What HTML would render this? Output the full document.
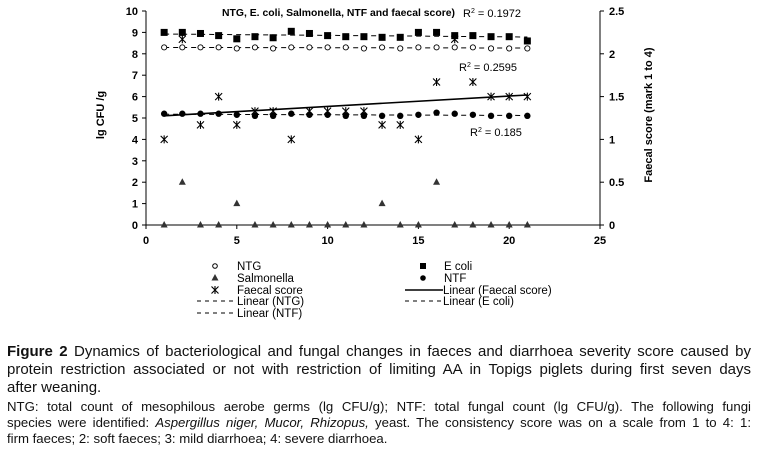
<!DOCTYPE html>
<html><head><meta charset="utf-8"><style>
body{margin:0;background:#fff;width:760px;height:452px;overflow:hidden;font-family:"Liberation Sans",Arial,sans-serif}
svg{position:absolute;left:0;top:0}
.cap{position:absolute;left:7px;width:744px;color:#111}
.cap div{white-space:nowrap}
.j{text-align:justify;text-align-last:justify}
</style></head><body>
<svg id="chart" width="760" height="330" font-family="Liberation Sans, Arial, sans-serif"></svg>
<div class="cap" style="top:343px;font-size:15px;line-height:18px">
<div class="j"><b>Figure 2</b> Dynamics of bacteriological and fungal changes in faeces and diarrhoea severity score caused by</div>
<div class="j">protein restriction associated or not with restriction of limiting AA in Topigs piglets during first seven days</div>
<div>after weaning.</div></div>
<div class="cap" style="top:399px;font-size:13.2px;line-height:16px">
<div class="j">NTG: total count of mesophilous aerobe germs (lg CFU/g); NTF: total fungal count (lg CFU/g). The following fungi</div>
<div class="j">species were identified: <i>Aspergillus niger, Mucor, Rhizopus,</i> yeast. The consistency score was on a scale from 1 to 4: 1:</div>
<div>firm faeces; 2: soft faeces; 3: mild diarrhoea; 4: severe diarrhoea.</div></div>
<script>
const days=[1,2,3,4,5,6,7,8,9,10,11,12,13,14,15,16,17,18,19,20,21];
const ntg=[8.3,8.3,8.3,8.3,8.25,8.3,8.25,8.3,8.3,8.3,8.3,8.25,8.3,8.25,8.3,8.3,8.3,8.3,8.25,8.25,8.25];
const ecoli=[9,9,8.95,8.85,8.7,8.8,8.75,9.05,8.95,8.85,8.8,8.8,8.77,8.77,9.0,9.0,8.85,8.85,8.8,8.8,8.6];
const ntf=[5.2,5.2,5.2,5.2,5.15,5.1,5.1,5.2,5.15,5.15,5.1,5.1,5.1,5.1,5.15,5.25,5.2,5.15,5.1,5.1,5.1];
const salmonella=[0,2,0,0,1,0,0,0,0,0,0,0,1,0,0,2,0,0,0,0,0];
const faecal=[1,2.17,1.17,1.5,1.17,1.33,1.33,1,1.33,1.33,1.33,1.33,1.17,1.17,1,1.67,2.17,1.67,1.5,1.5,1.5];
const xTicks=[0,5,10,15,20,25];
const yTicks=[0,1,2,3,4,5,6,7,8,9,10];
const y2Ticks=[0,0.5,1,1.5,2,2.5];
const NS="http://www.w3.org/2000/svg";
const svg=document.getElementById('chart');
const X=v=>146+v*(454/25), Y=v=>225-v*21.4, Y2=v=>Y(v*4);
function el(t,a,p){const e=document.createElementNS(NS,t);for(const k in a)e.setAttribute(k,a[k]);(p||svg).appendChild(e);return e;}
function txt(s,a){const e=el('text',a);e.textContent=s;return e;}
let g;
g=el('g',{});
el('line',{x1:146,y1:Y(0),x2:600,y2:Y(0),stroke:'#000'},g);
el('line',{x1:146,y1:Y(0),x2:146,y2:Y(10),stroke:'#000'},g);
el('line',{x1:600,y1:Y(0),x2:600,y2:Y(10),stroke:'#000'},g);
xTicks.forEach(v=>{el('line',{x1:X(v),y1:225,x2:X(v),y2:229,stroke:'#000'},g);const t=txt(v,{x:X(v),y:244,'font-size':11,'font-weight':'bold','text-anchor':'middle'});});
yTicks.forEach(v=>{el('line',{x1:142,y1:Y(v),x2:146,y2:Y(v),stroke:'#000'},g);const t=txt(v,{x:138,y:Y(v)+4,'font-size':11,'font-weight':'bold','text-anchor':'end'});});
y2Ticks.forEach(v=>{el('line',{x1:600,y1:Y2(v),x2:604,y2:Y2(v),stroke:'#000'},g);const t=txt(v,{x:609,y:Y2(v)+4,'font-size':11,'font-weight':'bold'});});
let t=txt('lg CFU /g',{x:104,y:115,'font-size':11,'font-weight':'bold','text-anchor':'middle',transform:'rotate(-90 104 115)'});
t=txt('Faecal score (mark 1 to 4)',{x:652,y:115,'font-size':11,'font-weight':'bold','text-anchor':'middle',transform:'rotate(-90 652 115)'});
t=txt('NTG, E. coli, Salmonella, NTF and faecal score)',{x:222,y:16,'font-size':10.5,'font-weight':'bold',textLength:233,lengthAdjust:'spacingAndGlyphs'});
function fit(ys){const n=days.length;let sx=0,sy=0,sxy=0,sxx=0;days.forEach((x,i)=>{sx+=x;sy+=ys[i];sxy+=x*ys[i];sxx+=x*x;});const b=(n*sxy-sx*sy)/(n*sxx-sx*sx);return [b,(sy-b*sx)/n];}
function trend(ys,yf,dash,name){const [b,a]=fit(ys);const l=el('line',{x1:X(1),y1:yf(a+b),x2:X(21),y2:yf(a+21*b),stroke:'#000','stroke-width':dash?1:1.6,'stroke-dasharray':dash?'5,4':'none'});}
trend(ecoli,Y,true,'trend-ecoli');trend(ntg,Y,true,'trend-ntg');trend(ntf,Y,true,'trend-ntf');trend(faecal,Y2,false,'trend-faecal');
function star(x,y,p){el('path',{d:`M${x-3.5},${y-3.5}L${x+3.5},${y+3.5}M${x+3.5},${y-3.5}L${x-3.5},${y+3.5}M${x},${y-4}L${x},${y+4}`,stroke:'#000','stroke-width':1.1},p);}
function tri(x,y,p){el('path',{d:`M${x},${y-4}L${x+3.5},${y+2.5}L${x-3.5},${y+2.5}Z`,fill:'#333'},p);}
days.forEach((d,i)=>{let m;
m=el('circle',{cx:X(d),cy:Y(ntg[i]),r:2.6,fill:'#fff',stroke:'#000','stroke-width':0.9});
m=el('rect',{x:X(d)-3.5,y:Y(ecoli[i])-3.5,width:7,height:7,fill:'#000'});
m=el('circle',{cx:X(d),cy:Y(ntf[i]),r:3.2,fill:'#000'});
m=el('g',{});tri(X(d),Y(salmonella[i]),m);
m=el('g',{});star(X(d),Y2(faecal[i]),m);
});
function r2(s,x,y,name){const e=el('text',{x:x,y:y,'font-size':11});e.innerHTML='R<tspan dy="-4" font-size="7">2</tspan><tspan dy="4"> = '+s+'</tspan>';}
r2('0.1972',463,17,'r2-ecoli');r2('0.2595',459,71,'r2-faecal');r2('0.185',470,136,'r2-ntf');
const lg=el('g',{'font-size':11.5});
function lt(s,x,y){const e=el('text',{x:x,y:y+4},lg);e.textContent=s;}
el('circle',{cx:215,cy:266,r:2.3,fill:'#fff',stroke:'#000'},lg);lt('NTG',237,266);
tri(215,278,lg);lt('Salmonella',237,278);
star(215,290,lg);lt('Faecal score',237,290);
el('line',{x1:197,y1:301,x2:235,y2:301,stroke:'#000','stroke-dasharray':'4,4'},lg);lt('Linear (NTG)',237,301);
el('line',{x1:197,y1:313,x2:235,y2:313,stroke:'#000','stroke-dasharray':'4,4'},lg);lt('Linear (NTF)',237,313);
el('rect',{x:420,y:263,width:6,height:6,fill:'#000'},lg);lt('E coli',444,266);
el('circle',{cx:423,cy:278,r:2.8,fill:'#000'},lg);lt('NTF',444,278);
el('line',{x1:405,y1:290,x2:443,y2:290,stroke:'#000','stroke-width':1.6},lg);lt('Linear (Faecal score)',443,290);
el('line',{x1:405,y1:301,x2:443,y2:301,stroke:'#000','stroke-dasharray':'4,4'},lg);lt('Linear (E coli)',443,301);
</script>
</body></html>
